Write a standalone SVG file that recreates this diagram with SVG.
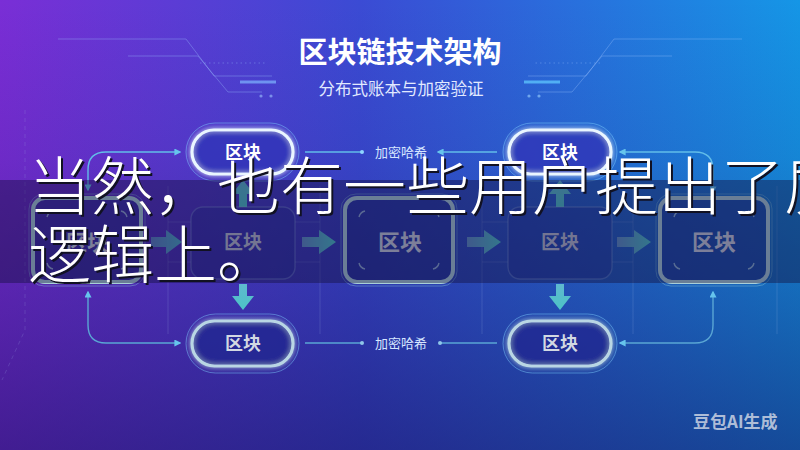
<svg xmlns="http://www.w3.org/2000/svg" width="800" height="450" viewBox="0 0 800 450">
<defs>
<linearGradient id="bg" x1="0" y1="0" x2="1" y2="0">
<stop offset="0" stop-color="#7a2ed6"/>
<stop offset="0.45" stop-color="#3b4bd4"/>
<stop offset="1" stop-color="#1596e6"/>
</linearGradient>
<linearGradient id="shade" x1="0" y1="0" x2="0" y2="1">
<stop offset="0" stop-color="#140e5a" stop-opacity="0"/>
<stop offset="0.35" stop-color="#140e5a" stop-opacity="0.12"/>
<stop offset="1" stop-color="#140e5a" stop-opacity="0.55"/>
</linearGradient>
<linearGradient id="arrowFill" x1="0" y1="0" x2="1" y2="0">
<stop offset="0" stop-color="#5f8fc4"/>
<stop offset="1" stop-color="#4cc3c6"/>
</linearGradient>
<linearGradient id="arrowFillV" x1="0" y1="0" x2="0" y2="1">
<stop offset="0" stop-color="#5fb9cf"/>
<stop offset="1" stop-color="#4cc3c6"/>
</linearGradient>
<filter id="glow" x="-30%" y="-30%" width="160%" height="160%">
<feGaussianBlur in="SourceGraphic" stdDeviation="2.5" result="b"/>
<feMerge><feMergeNode in="b"/><feMergeNode in="SourceGraphic"/></feMerge>
</filter>
<filter id="soft" x="-10%" y="-10%" width="120%" height="120%">
<feGaussianBlur stdDeviation="1.2"/>
</filter>
<marker id="ah" viewBox="0 0 10 10" refX="8" refY="5" markerWidth="7" markerHeight="7" markerUnits="userSpaceOnUse" orient="auto-start-reverse">
<path d="M0,0 L10,5 L0,10 Z" fill="#66c4ec"/>
</marker>
<marker id="ahs" viewBox="0 0 10 10" refX="8" refY="5" markerWidth="9" markerHeight="9" markerUnits="userSpaceOnUse" orient="auto-start-reverse">
<path d="M0,0 L10,5 L0,10 Z" fill="#66c4ec"/>
</marker>
<style>
.deco{fill:none;stroke:#9fc4ff;stroke-opacity:.35;stroke-width:1}
.frame{fill:none;stroke:#a8c4f0;stroke-opacity:.18;stroke-width:1}
.conn{fill:none;stroke:#62bde9;stroke-width:1.4}
.connB{fill:none;stroke:#5aa6d4;stroke-width:1.4}
.pillRing{fill:none;stroke:#7fd0ff;stroke-opacity:.45;stroke-width:1}
.pillTop{fill:#2d34b8;fill-opacity:.55;stroke:#eaf6ff;stroke-width:3.2}
.pillBot{fill:#23278f;fill-opacity:.55;stroke:#b9d6e4;stroke-width:3.2}
.boxRing{fill:none;stroke:#8fd0e0;stroke-opacity:.4;stroke-width:1}
.boxMain{fill:#1d2c8c;fill-opacity:.45;stroke:#a9cfd8;stroke-width:4}
.boxDim{fill:#1e2a96;fill-opacity:.3;stroke:#8fb0e0;stroke-opacity:.35;stroke-width:1.4}
.corner{fill:none;stroke:#b8dbe6;stroke-opacity:.7;stroke-width:1.4}
.lbl{font-family:"Noto Sans CJK SC","Noto Sans",sans-serif;font-weight:bold;text-anchor:middle}
.edge{font-family:"Noto Sans CJK SC","Noto Sans",sans-serif;font-size:13px;fill:#d6e6ff;text-anchor:middle}
.sub{font-family:"Noto Sans CJK SC",sans-serif;font-size:63px;font-weight:300}
.blk{fill:url(#arrowFill)}
.blkV{fill:url(#arrowFillV)}
</style>
</defs>

<rect width="800" height="450" fill="url(#bg)"/>
<rect width="800" height="450" fill="url(#shade)"/>

<!-- title decorations -->
<g id="decor">
<path class="deco" d="M58,39 H186 L214,76 H272"/>
<path class="deco" d="M128,56 H198 L228,92 H262"/>
<path class="deco" d="M200,63 H266" stroke-dasharray="1.5 3"/>
<path d="M240,82 H276" stroke="#7fb6ff" stroke-width="3" stroke-opacity=".7"/>
<circle cx="261" cy="96" r="1.6" fill="#9fc4ff" fill-opacity=".6"/>
<circle cx="271" cy="96" r="1.6" fill="#9fc4ff" fill-opacity=".6"/>
<path class="deco" d="M742,39 H614 L586,76 H528"/>
<path class="deco" d="M672,56 H602 L572,92 H538"/>
<path class="deco" d="M600,63 H534" stroke-dasharray="1.5 3"/>
<path d="M560,82 H524" stroke="#5fc8ff" stroke-width="3" stroke-opacity=".75"/>
<circle cx="539" cy="96" r="1.6" fill="#9fd4ff" fill-opacity=".6"/>
<circle cx="529" cy="96" r="1.6" fill="#9fd4ff" fill-opacity=".6"/>
<path class="frame" d="M25,110 V330 L2,380" stroke-dasharray="4 4"/>
<path class="frame" d="M168,186 V334 M320,186 V334 M168,222 H191 M168,262 H191 M320,222 H295 M320,262 H295"/>
<path class="frame" d="M482,186 V334 M633,186 V334 M482,222 H508 M482,262 H508 M633,222 H612 M633,262 H612"/>
<path class="frame" d="M777,186 V334"/>
</g>

<g id="title">
<text x="400" y="63" text-anchor="middle" font-family="'Noto Sans CJK SC','Noto Sans',sans-serif" font-size="29" font-weight="bold" fill="#ffffff">区块链技术架构</text>
<text x="401" y="95" text-anchor="middle" font-family="'Noto Sans CJK SC','Noto Sans',sans-serif" font-size="16.5" fill="#e2eaff">分布式账本与加密验证</text>
</g>

<g id="connectors">
<path class="conn" d="M180,152 H106 Q88,152 88,170 V190" marker-start="url(#ah)" marker-end="url(#ah)"/>
<path class="conn" d="M620,152 H695 Q713,152 713,170 V192" marker-start="url(#ah)" marker-end="url(#ah)"/>
<path class="connB" d="M180,343 H106 Q88,343 88,325 V292" marker-start="url(#ah)" marker-end="url(#ah)"/>
<path class="connB" d="M620,343 H695 Q713,343 713,325 V292" marker-start="url(#ah)" marker-end="url(#ah)"/>
<path class="conn" d="M305,152 H362"/>
<circle cx="362" cy="152" r="2" fill="#8fd6ff"/>
<path class="conn" d="M497,152 H438" marker-end="url(#ah)"/>
<text class="edge" x="401" y="157">加密哈希</text>
<path class="connB" d="M305,343 H362"/>
<circle cx="362" cy="343" r="2" fill="#8fc6e8"/>
<path class="connB" d="M497,343 H440"/>
<circle cx="440" cy="343" r="2" fill="#8fc6e8"/>
<text class="edge" x="401" y="348" fill="#c8d8f0">加密哈希</text>
<!-- block arrows -->
<path class="blk" d="M151,237 H166 V230 L182,242 L166,254 V247 H151 Z" opacity=".85"/>
<path class="blk" d="M302,237 H319 V230 L336,242 L319,254 V247 H302 Z"/>
<path class="blk" d="M467,237 H484 V230 L501,242 L484,254 V247 H467 Z"/>
<path class="blk" d="M617,237 H634 V230 L651,242 L634,254 V247 H617 Z"/>
<path class="blkV" d="M239,207 V194 H232 L243,180 L254,194 H247 V207 Z"/>
<path class="blkV" d="M556,207 V194 H549 L560,180 L571,194 H564 V207 Z"/>
<path class="blkV" d="M239,284 V296 H232 L243,310 L254,296 H247 V284 Z"/>
<path class="blkV" d="M556,284 V296 H549 L560,310 L571,296 H564 V284 Z"/>
</g>

<g id="pill-top-1">
<rect class="pillRing" x="186" y="123" width="113" height="58" rx="29"/>
<rect class="pillTop" x="192" y="130" width="101" height="44" rx="22" filter="url(#glow)"/>
<text class="lbl" x="243" y="159" font-size="18" fill="#ffffff">区块</text>
</g>
<g id="pill-top-2">
<rect class="pillRing" x="503" y="123" width="114" height="58" rx="29"/>
<rect class="pillTop" x="509" y="130" width="102" height="44" rx="22" filter="url(#glow)"/>
<text class="lbl" x="560" y="159" font-size="18" fill="#ffffff">区块</text>
</g>
<g id="pill-bot-1">
<rect class="pillRing" x="186" y="314" width="113" height="59" rx="29.5"/>
<rect class="pillBot" x="192" y="321" width="101" height="45" rx="22.5" filter="url(#glow)"/>
<text class="lbl" x="243" y="350" font-size="18" fill="#d2d8e2">区块</text>
</g>
<g id="pill-bot-2">
<rect class="pillRing" x="503" y="314" width="114" height="59" rx="29.5"/>
<rect class="pillBot" x="509" y="321" width="102" height="45" rx="22.5" filter="url(#glow)"/>
<text class="lbl" x="560" y="350" font-size="18" fill="#d2d8e2">区块</text>
</g>

<g id="block-1">
<rect class="boxRing" x="29" y="194" width="116" height="92" rx="15"/>
<rect class="boxMain" x="33" y="198" width="108" height="84" rx="12"/>
<path class="corner" d="M47,217 A8,8 0 0 1 53,211 M121,211 A8,8 0 0 1 127,217 M127,263 A8,8 0 0 1 121,269 M53,269 A8,8 0 0 1 47,263"/>
<text class="lbl" x="87" y="250" font-size="21" fill="#c9d1dc">区块</text>
</g>
<g id="block-2">
<rect class="boxDim" x="191" y="207" width="104" height="72" rx="12"/>
<text class="lbl" x="243" y="249" font-size="19" fill="#b8c0d0">区块</text>
</g>
<g id="block-3">
<rect class="boxRing" x="341" y="194" width="116" height="92" rx="15"/>
<rect class="boxMain" x="345" y="198" width="108" height="84" rx="12"/>
<path class="corner" d="M359,217 A8,8 0 0 1 365,211 M433,211 A8,8 0 0 1 439,217 M439,263 A8,8 0 0 1 433,269 M365,269 A8,8 0 0 1 359,263"/>
<text class="lbl" x="400" y="250" font-size="22" fill="#c9d1dc">区块</text>
</g>
<g id="block-4">
<rect class="boxDim" x="508" y="207" width="104" height="72" rx="12"/>
<text class="lbl" x="560" y="249" font-size="19" fill="#b8c0d0">区块</text>
</g>
<g id="block-5">
<rect class="boxRing" x="656" y="194" width="116" height="92" rx="15"/>
<rect class="boxMain" x="660" y="198" width="108" height="84" rx="12"/>
<path class="corner" d="M674,217 A8,8 0 0 1 680,211 M748,211 A8,8 0 0 1 754,217 M754,263 A8,8 0 0 1 748,269 M680,269 A8,8 0 0 1 674,263"/>
<text class="lbl" x="714" y="250" font-size="22" fill="#c9d1dc">区块</text>
</g>

<g id="watermark">
<text x="693" y="428" font-family="'Noto Sans CJK SC','Noto Sans',sans-serif" font-size="17" font-weight="bold" fill="#d8dde8" fill-opacity=".8">豆包AI生成</text>
</g>

<g id="subtitle">
<rect x="0" y="180" width="800" height="103" fill="#140f3c" fill-opacity=".42"/>
<g class="sub" fill="#111122" transform="translate(2,2)">
<text x="28" y="209">当然，也有一些用户提出了质</text>
<text x="28" y="277">逻辑上。</text>
</g>
<g class="sub" fill="#ffffff">
<text x="28" y="209">当然，也有一些用户提出了质</text>
<text x="28" y="277">逻辑上。</text>
</g>
</g>
</svg>
